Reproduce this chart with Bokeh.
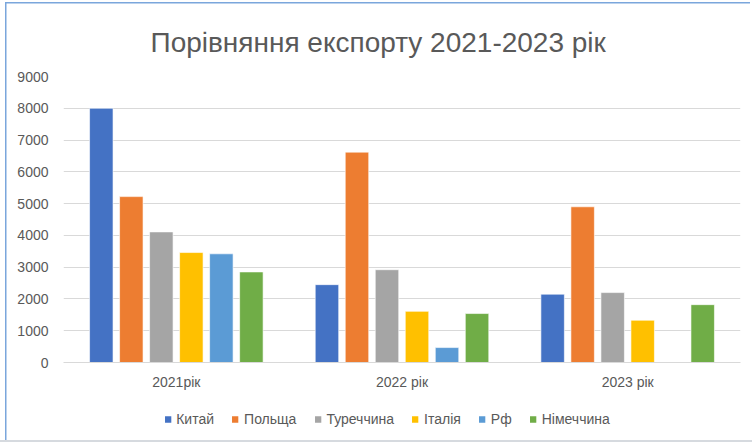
from bokeh.plotting import figure
from bokeh.layouts import column
from bokeh.models import (ColumnDataSource, Range1d, FactorRange, SingleIntervalTicker,
                          Legend, LegendItem)
from bokeh.transform import dodge
from bokeh.embed import file_html
from bokeh.resources import INLINE

# ---- data ----
years = ["2021рік", "2022 рік", "2023 рік"]
countries = ["Китай", "Польща", "Туреччина", "Італія", "Рф", "Німеччина"]
china = [8000, 2450, 2150]
poland = [5220, 6620, 4900]
turkey = [4110, 2920, 2200]
italy = [3460, 1610, 1330]
rf = [3420, 470, 0]
germany = [2850, 1540, 1820]
series = [china, poland, turkey, italy, rf, germany]
colors = ["#4472C4", "#ED7D31", "#A5A5A5", "#FFC000", "#5B9BD5", "#70AD47"]
title_text = "Порівняння експорту 2021-2023 рік"

FONT = "Liberation Sans"
TXT = "#595959"

data = {"year": years}
for i, s in enumerate(series):
    data["s%d" % i] = s
source = ColumnDataSource(data)

frame_bg = ("linear-gradient(#7aa6dc,#7aa6dc) 5px 2px / 1.5px 438px no-repeat, "
            "linear-gradient(#7aa6dc,#7aa6dc) 5px 2px / 745px 1.5px no-repeat, "
            "linear-gradient(#d6dadf,#d6dadf) 0px 440px / 752px 2px no-repeat, "
            "#ffffff")

p = figure(
    x_range=FactorRange(factors=years, range_padding=0),
    y_range=Range1d(0, 9000),
    frame_width=677, frame_height=286,
    output_backend="svg", toolbar_location=None,
    min_border_left=63, min_border_right=12, min_border_top=76, min_border_bottom=29,
    background_fill_color="white", border_fill_alpha=0,
    outline_line_color=None,
    title=title_text, title_location="above",
)
p.title.align = "left"
p.title.offset = 87
p.title.standoff = 37
p.title.text_font = FONT
p.title.text_font_size = "28px"
p.title.text_font_style = "normal"
p.title.text_color = TXT

slot = 0.133
bw = 0.104
for i, name in enumerate(countries):
    p.vbar(x=dodge("year", (i - 2.5) * slot, range=p.x_range), top="s%d" % i,
           width=bw, source=source, fill_color=colors[i],
           line_color="#ffffff", line_width=1, line_alpha=0.6)

# axes
p.xgrid.grid_line_color = None
p.ygrid.grid_line_color = "#D9D9D9"
p.ygrid.grid_line_width = 1
p.yaxis.ticker = SingleIntervalTicker(interval=1000)
p.yaxis.axis_line_color = None
p.yaxis.major_tick_line_color = None
p.yaxis.minor_tick_line_color = None
p.yaxis.major_tick_out = 0
p.yaxis.major_tick_in = 0
p.yaxis.minor_tick_out = 0
p.yaxis.major_label_standoff = 15
p.xaxis.axis_line_color = "#D9D9D9"
p.xaxis.major_tick_line_color = None
p.xaxis.minor_tick_line_color = None
p.xaxis.major_tick_out = 0
p.xaxis.major_tick_in = 0
p.xaxis.minor_tick_out = 0
p.xaxis.major_label_standoff = 11
for ax in (p.xaxis, p.yaxis):
    ax.major_label_text_font = FONT
    ax.major_label_text_font_size = "14px"
    ax.major_label_text_color = TXT

# ---- legend strip (separate figure so the legend is never clipped) ----
# legend proxies: same bar glyphs, hidden in this strip
pl = figure(
    x_range=FactorRange(factors=years, range_padding=0), y_range=Range1d(0, 9000),
    width=752, height=53, output_backend="svg", toolbar_location=None,
    x_axis_location=None, y_axis_location=None,
    min_border_left=0, min_border_right=42, min_border_top=0, min_border_bottom=0,
    background_fill_alpha=0, border_fill_alpha=0, outline_line_color=None,
)
pl.grid.visible = False
items = []
for i, name in enumerate(countries):
    r = pl.vbar(x=dodge("year", (i - 2.5) * slot, range=pl.x_range), top="s%d" % i,
                width=bw, source=source, fill_color=colors[i], line_color=None)
    r.visible = False
    items.append(LegendItem(label=name, renderers=[r]))

legend = Legend(items=items, orientation="horizontal", location="center",
                glyph_width=8, glyph_height=8, label_height=16,
                label_standoff=5, spacing=17, padding=0, margin=0,
                label_text_font=FONT, label_text_font_size="14px",
                label_text_color=TXT, border_line_color=None,
                background_fill_alpha=0, inactive_fill_alpha=0,
                click_policy="none")
pl.add_layout(legend, "center")

layout = column(p, pl, spacing=0, styles={"background": frame_bg})

open("out.html", "w").write(file_html(layout, INLINE))
